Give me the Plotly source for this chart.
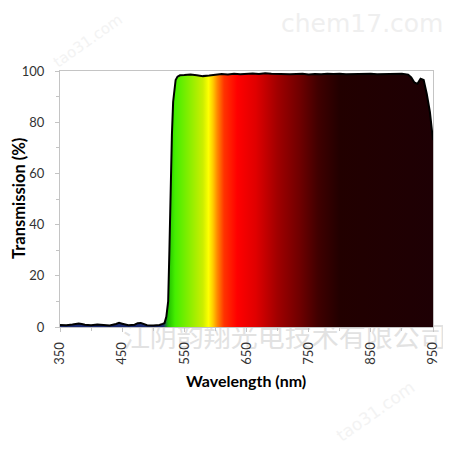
import plotly.graph_objects as go

# measured transmission curve
wavelength = [350, 360, 370, 380, 385, 390, 400, 410, 420, 430, 440, 445, 450, 460, 470,
              475, 480, 485, 490, 500, 510, 515, 518, 521, 524, 526, 528, 530, 532, 534,
              536, 539, 543, 550, 560, 570, 580, 590, 600, 610, 620, 630, 640, 650, 660,
              670, 680, 690, 700, 710, 720, 730, 740, 750, 760, 770, 780, 790, 800, 810,
              820, 830, 840, 850, 860, 870, 880, 890, 900, 910, 915, 920, 925, 930, 935,
              940, 945, 950]
transmission = [0.8, 0.7, 1.0, 1.4, 1.2, 0.9, 0.7, 1.0, 0.8, 0.6, 1.2, 1.6, 1.3, 0.7, 0.9,
                1.5, 1.6, 1.1, 0.7, 0.6, 0.8, 1.2, 1.5, 4, 10, 30, 55, 75, 88, 94,
                96.5, 97.8, 98.3, 98.4, 98.6, 98.3, 98.0, 98.2, 98.6, 98.8, 98.6, 98.9, 98.7, 98.9, 99.0,
                98.8, 99.1, 98.9, 98.8, 98.9, 98.7, 98.8, 98.9, 98.6, 98.8, 98.7, 98.9, 98.8, 98.9, 98.7,
                98.8, 98.9, 98.8, 98.9, 98.7, 98.8, 98.9, 98.8, 98.9, 98.6, 97.5, 95.5, 95.0, 97.0, 96.5,
                91, 84, 73]

x_ticks = [350, 450, 550, 650, 750, 850, 950]
x_minor = [400, 500, 600, 700, 800, 900]

# spectrum colours for the fill (nm, colour)
spectrum = [(350, '#1c2a70'), (516, '#1c2a70'), (524, '#20c000'), (535, '#44ee00'),
            (558, '#88ee00'), (580, '#ccee00'), (589, '#ffff00'), (596, '#ffcc00'),
            (603, '#ff8800'), (614, '#ff3300'), (635, '#ff0000'), (665, '#e00000'),
            (700, '#a00000'), (735, '#700000'), (765, '#400000'), (800, '#220000'),
            (950, '#1e0004')]
colorscale = [[(nm - 350) / 600, c] for nm, c in spectrum]

FONT = 'Lato, Open Sans, sans-serif'
TEXT_COLOR = '#333333'
AXIS_COLOR = '#c4c4c4'
W = H = 443

fig = go.Figure()
# company watermark on a full-page background subplot, so the chart axes draw over it
fig.add_trace(go.Scatter(
    x=[0.625], y=[0.25], mode='text', text=['江阴韵翔光电技术有限公司'],
    textfont=dict(size=27, color='#e2e2e2', family='Noto Sans CJK SC'),
    showlegend=False, hoverinfo='skip', xaxis='x', yaxis='y'
))
fig.add_trace(go.Scatter(
    x=wavelength, y=transmission,
    mode='lines',
    line=dict(color='black', width=2),
    fill='tozeroy',
    fillgradient=dict(type='horizontal', colorscale=colorscale, start=350, stop=950),
    showlegend=False,
    hoverinfo='skip',
    xaxis='x2', yaxis='y2'
))

wm = dict(showarrow=False, xref='paper', yref='paper', xanchor='center', yanchor='middle')
fig.update_layout(
    width=W, height=H,
    paper_bgcolor='white',
    plot_bgcolor='rgba(0,0,0,0)',
    margin=dict(l=0, r=0, t=0, b=0),
    font=dict(family=FONT, size=13, color=TEXT_COLOR),
    xaxis=dict(domain=[0, 1], range=[0, 1], visible=False, fixedrange=True),
    yaxis=dict(domain=[0, 1], range=[0, 1], visible=False, fixedrange=True),
    xaxis2=dict(
        domain=[52 / W, 425 / W], anchor='y2', automargin=False,
        range=[350, 950],
        tickmode='array', tickvals=x_ticks, ticktext=[str(v) for v in x_ticks],
        tickangle=-90, ticklabelstandoff=5,
        showgrid=False, zeroline=False,
        showline=True, linecolor=AXIS_COLOR, linewidth=1, mirror=True,
        ticks='outside', ticklen=4, tickcolor=AXIS_COLOR,
        minor=dict(tickvals=x_minor, ticks='outside', ticklen=3, tickcolor=AXIS_COLOR),
    ),
    yaxis2=dict(
        domain=[1 - 319 / H, 1 - 63 / H], anchor='x2', automargin=False,
        range=[0, 100], dtick=20, ticklabelstandoff=8,
        showgrid=False, zeroline=False,
        showline=True, linecolor=AXIS_COLOR, linewidth=1, mirror=True,
        ticks='outside', ticklen=4, tickcolor=AXIS_COLOR,
        minor=dict(dtick=10, ticks='outside', ticklen=3, tickcolor=AXIS_COLOR),
    ),
    annotations=[
        dict(text='<b>Wavelength (nm)</b>', x=238 / W, y=1 - 372 / H,
             font=dict(size=16, color='black'), **wm),
        dict(text='<b>Transmission (%)</b>', x=11 / W, y=1 - 191 / H, textangle=-90,
             font=dict(size=16.5, color='black'), **wm),
        dict(text='chem17.com', x=0.80, y=0.966, font=dict(size=25, color='#efefef', family='DejaVu Sans'), **wm),
        dict(text='tao31.com', x=0.18, y=0.925, textangle=-35,
             font=dict(size=15, color='#f3f3f3', family='DejaVu Sans'), **wm),
        dict(text='tao31.com', x=0.83, y=0.09, textangle=-35,
             font=dict(size=17, color='#f3f3f3', family='DejaVu Sans'), **wm),
    ]
)

fig.write_html('out.html')
